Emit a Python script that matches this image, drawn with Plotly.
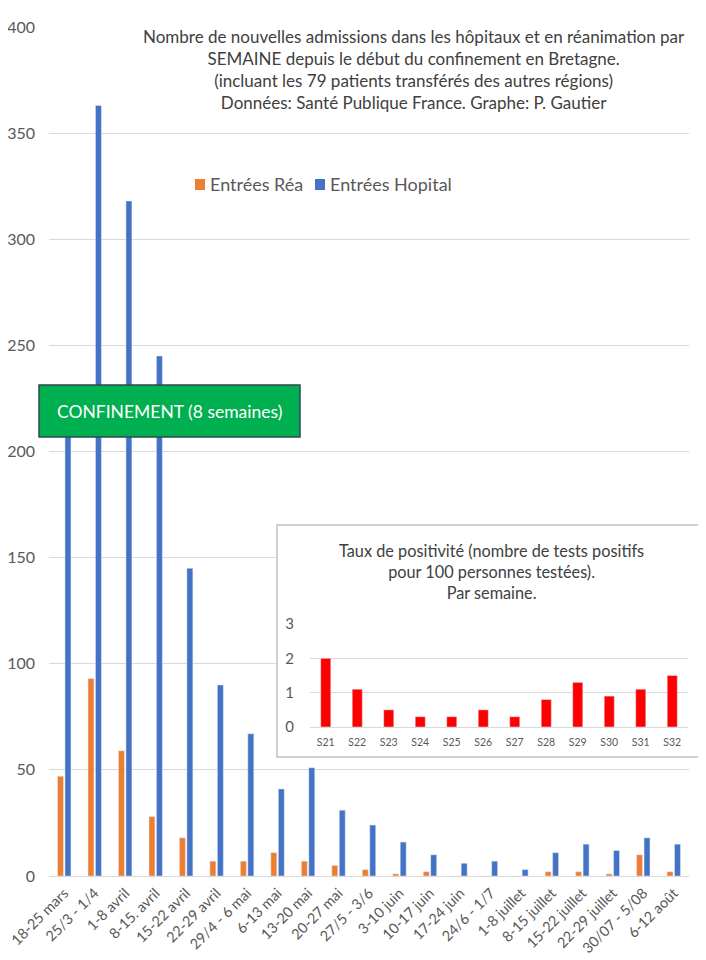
import plotly.graph_objects as go

W, H = 706, 960
OFF = 8  # page body margin of the browser

categories = [
    "18-25 mars", "25/3 - 1/4", "1-8 avril", "8-15. avril", "15-22 avril",
    "22-29 avril", "29/4 - 6 mai", "6-13 mai", "13-20 mai", "20-27 mai",
    "27/5 - 3/6", "3-10 juin", "10-17 juin", "17-24 juin", "24/6 - 1/7",
    "1-8 juillet", "8-15 juillet", "15-22 juillet", "22-29 juillet",
    "30/07 - 5/08", "6-12 août"]

rea_values = [47, 93, 59, 28, 18, 7, 7, 11, 7, 5, 3, 1, 2, 0, 0, 0, 2, 2, 1, 10, 2]
hopital_values = [222, 363, 318, 245, 145, 90, 67, 41, 51, 31, 24, 16, 10, 6, 7, 3, 11, 15, 12, 18, 15]

inset_weeks = ["S21", "S22", "S23", "S24", "S25", "S26", "S27", "S28", "S29", "S30", "S31", "S32"]
inset_values = [2.0, 1.1, 0.5, 0.3, 0.3, 0.5, 0.3, 0.8, 1.3, 0.9, 1.1, 1.5]

y_ticks = [0, 50, 100, 150, 200, 250, 300, 350, 400]
inset_ticks = [0, 1, 2, 3]

FONT = "Lato"
GRAY = "#595959"
GRID = "#D9D9D9"
ORANGE = "#ED7D31"
BLUE = "#4472C4"


def px(x):
    return (x - OFF) / W


def py(y):
    return 1 - (y - OFF) / H


fig = go.Figure()
fig.add_trace(go.Bar(name="Entrées Réa", x=categories, y=rea_values,
                     marker_color=ORANGE, hoverinfo="skip", showlegend=False))
fig.add_trace(go.Bar(name="Entrées Hopital", x=categories, y=hopital_values,
                     marker_color=BLUE, hoverinfo="skip", showlegend=False))
# white background panel for the inset (empty subplot)
fig.add_trace(go.Scatter(x=[], y=[], xaxis="x2", yaxis="y2", showlegend=False,
                         hoverinfo="skip"))
fig.add_trace(go.Bar(x=inset_weeks, y=inset_values, xaxis="x3", yaxis="y3",
                     marker_color="#FF0000", width=0.32, showlegend=False,
                     hoverinfo="skip"))

fig.update_layout(
    width=W, height=H,
    margin=dict(l=0, r=0, t=0, b=0),
    paper_bgcolor="white", plot_bgcolor="white",
    font=dict(family=FONT, color=GRAY),
    barmode="group", bargap=0.51, bargroupgap=0.2,
    showlegend=False,
    xaxis=dict(domain=[px(49), px(689)], anchor="y", tickangle=-45,
               tickfont=dict(size=14.5, color=GRAY), showline=True, linecolor=GRID,
               linewidth=1, ticks="", automargin=False, showgrid=False,
               ticklabelstandoff=2),
    yaxis=dict(domain=[py(876), py(27)], anchor="x", range=[0, 400], tickvals=y_ticks,
               tickfont=dict(size=16, color=GRAY), showgrid=True, gridcolor=GRID,
               gridwidth=1, zeroline=False, showline=False, ticks="",
               ticklabelstandoff=13, automargin=False),
    xaxis2=dict(domain=[px(277), px(705)], anchor="y2", visible=False, range=[0, 1]),
    yaxis2=dict(domain=[py(757), py(525)], anchor="x2", visible=False, range=[0, 1]),
    xaxis3=dict(domain=[px(310), px(688)], anchor="y3", tickfont=dict(size=10.5, color=GRAY),
                showline=True, linecolor=GRID, ticks="", automargin=False, showgrid=False,
                ticklabelstandoff=5),
    yaxis3=dict(domain=[py(727), py(624)], anchor="x3", range=[0, 3], tickvals=inset_ticks,
                tickfont=dict(size=15, color=GRAY), showgrid=True, gridcolor=GRID,
                zeroline=False, ticks="", ticklabelstandoff=15, automargin=False),
)

fig.add_annotation(
    text="Nombre de nouvelles admissions dans les hôpitaux et en réanimation par<br>"
         "SEMAINE depuis le début du confinement en Bretagne.<br>"
         "(incluant les 79 patients transférés des autres régions)<br>"
         "Données: Santé Publique France. Graphe: P. Gautier",
    xref="paper", yref="paper", x=px(414), y=py(70), xanchor="center", yanchor="middle",
    showarrow=False, align="center", font=dict(size=17, color="#404040", family=FONT))

fig.add_annotation(
    text="Taux de positivité (nombre de tests positifs<br>pour 100 personnes testées).<br>Par semaine.",
    xref="paper", yref="paper", x=px(491), y=py(571), xanchor="center", yanchor="middle",
    showarrow=False, align="center", font=dict(size=16.3, color="#404040", family=FONT))

# legend (squares + labels)
legend_items = [("Entrées Réa", ORANGE, 195), ("Entrées Hopital", BLUE, 315)]
for label, color, x0 in legend_items:
    fig.add_shape(type="rect", xref="paper", yref="paper", x0=px(x0), x1=px(x0 + 10),
                  y0=py(190), y1=py(179), fillcolor=color, line=dict(width=0),
                  layer="above")
    fig.add_annotation(text=label, xref="paper", yref="paper", x=px(x0 + 13), y=py(184),
                       xanchor="left", yanchor="middle", showarrow=False,
                       font=dict(size=18, color=GRAY, family=FONT))

# inset frame
fig.add_shape(type="rect", xref="paper", yref="paper", x0=px(277), x1=px(705),
              y0=py(757), y1=py(525), line=dict(color="#D0D0D0", width=2),
              fillcolor="rgba(0,0,0,0)", layer="above")

# confinement box
fig.add_shape(type="rect", xref="paper", yref="paper", x0=px(39), x1=px(300),
              y0=py(437), y1=py(385), line=dict(color="#2C4A52", width=1.5),
              fillcolor="#00B050", layer="above")
fig.add_annotation(text="CONFINEMENT (8 semaines)", xref="paper", yref="paper",
                   x=px(169), y=py(411), xanchor="center", yanchor="middle",
                   showarrow=False, font=dict(size=17.5, color="white", family=FONT))

fig.write_html("out.html")
